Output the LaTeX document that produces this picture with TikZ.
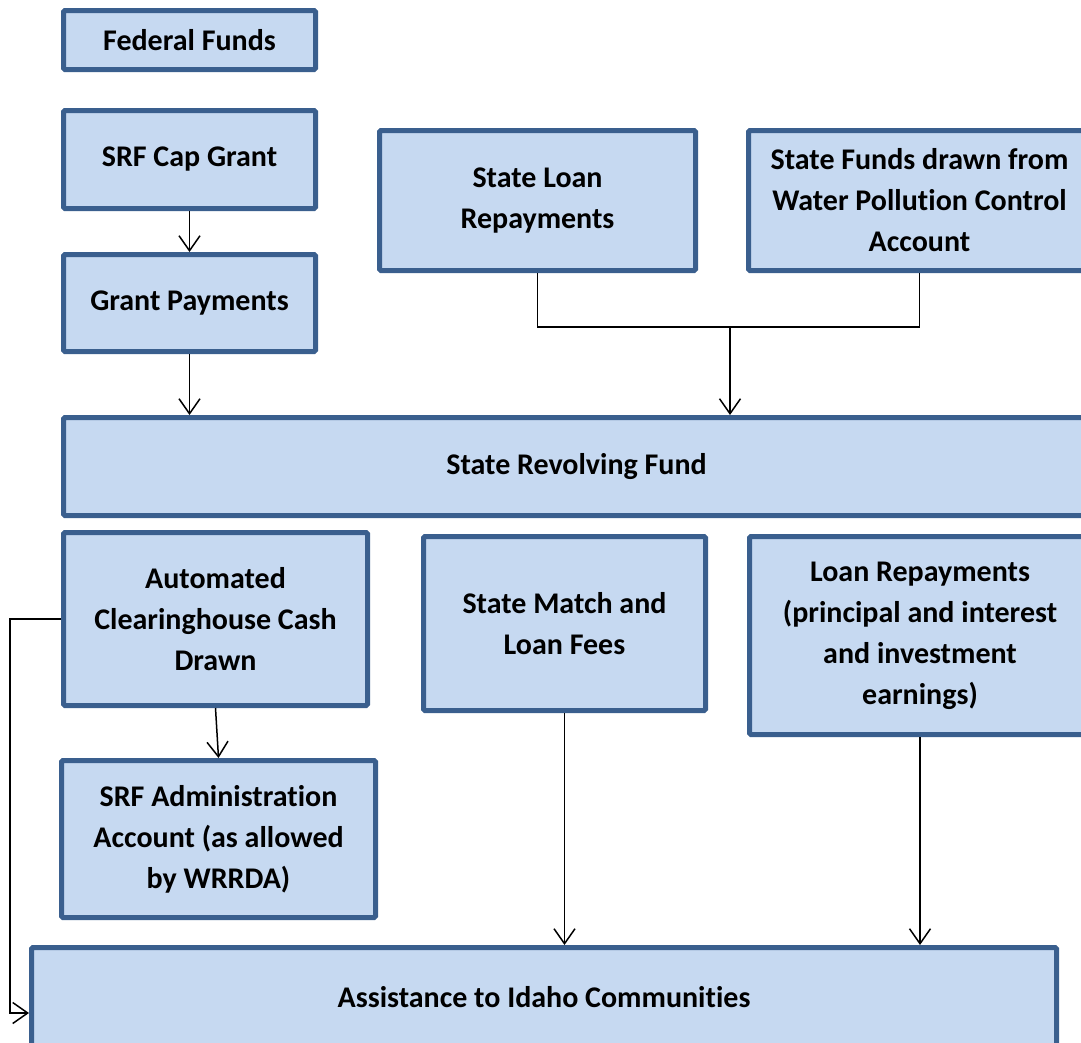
\documentclass[tikz,border=0pt]{standalone}
\usepackage{fontspec}
\setmainfont{Carlito}[Ligatures=NoCommon]
\usepackage{tikz}
\usetikzlibrary{arrows.meta, calc}
\definecolor{boxfill}{HTML}{C6D9F1}
\definecolor{boxline}{HTML}{3A5F8E}
\tikzset{
  fundbox/.style={draw=boxline, fill=boxfill, line width=5pt, rounded corners=1.5pt,
    align=center, inner sep=0pt, font=\fontsize{30}{41}\selectfont\bfseries},
  flow/.style={line width=1.5pt, -{Straight Barb[length=15pt,width=21pt,line width=1.5pt]}}
}
\begin{document}
\begin{tikzpicture}[x=1pt, y=-1pt]
\useasboundingbox (0,0) rectangle (1081,1042);
\clip (0,0) rectangle (1081,1042);
\node[fundbox, minimum width=252, minimum height=59] (fed) at (189.5,40) {Federal Funds};
\node[fundbox, minimum width=252, minimum height=98] (cap) at (189.5,159.5) {SRF Cap Grant};
\node[fundbox, minimum width=252, minimum height=97] (gpay) at (189.5,303) {Grant Payments};
\node[fundbox, minimum width=316, minimum height=140] (sloan) at (537.5,200.5) {State Loan\\Repayments};
\node[fundbox, minimum width=342, minimum height=140] (sfund) at (919.5,200.5)
  {State Funds drawn from\\Water Pollution Control\\Account};
\node[fundbox, minimum width=1026, minimum height=98] (srf) at (576.5,466.5) {State Revolving Fund};
\node[fundbox, minimum width=304, minimum height=173] (ach) at (215.5,619)
  {Automated\\Clearinghouse Cash\\Drawn};
\node[fundbox, minimum width=282, minimum height=174] (match) at (564.5,623.5) {State Match and\\Loan Fees};
\node[fundbox, minimum width=341, minimum height=198] (lrep) at (920,635.5)
  {Loan Repayments\\(principal and interest\\and investment\\earnings)};
\node[fundbox, minimum width=314, minimum height=157] (admin) at (218.5,839)
  {SRF Administration\\Account (as allowed\\by WRRDA)};
\node[fundbox, minimum width=1025, minimum height=99] (assist) at (544,997) {Assistance to Idaho Communities};
\coordinate (jn) at (730,327);
\coordinate (lp) at (10,1013);
\draw[flow] (cap) -- (gpay);
\draw[flow] (gpay.south) -- (gpay.south |- srf.north);
\draw[line width=1.5pt] (sloan.south) |- (jn) -| (sfund.south);
\draw[flow] (jn) -- (jn |- srf.north);
\draw[flow] (ach.south) -- (admin.north);
\draw[flow] (match.south) -- (match.south |- assist.north);
\draw[flow] (lrep.south) -- (lrep.south |- assist.north);
\draw[flow] (ach.west) -| (lp) -- (lp -| assist.west);
\end{tikzpicture}
\end{document}
